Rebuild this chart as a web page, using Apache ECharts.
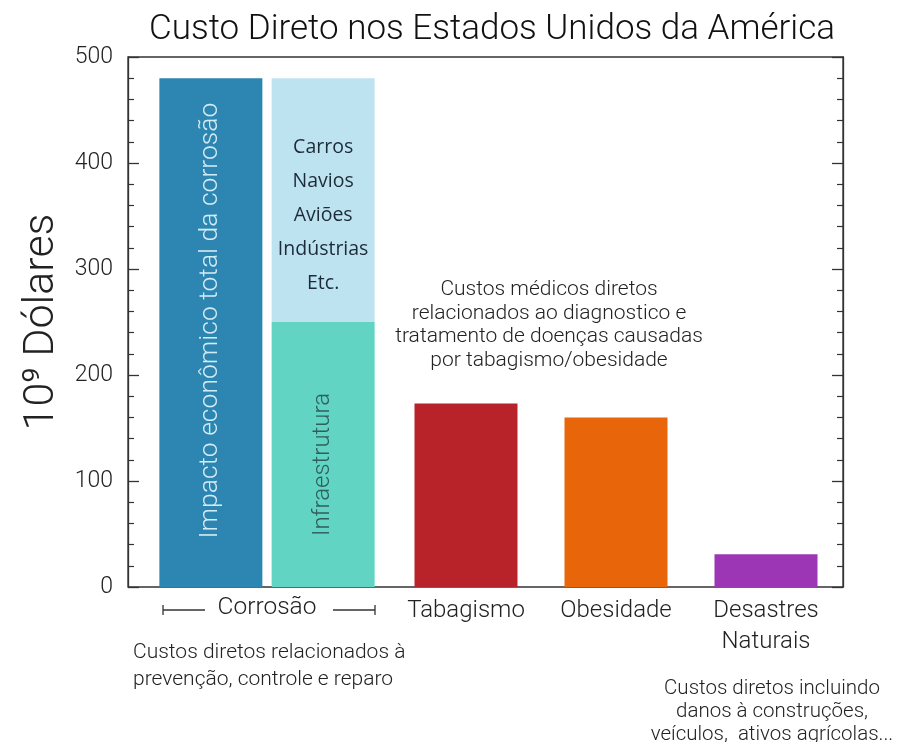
<!DOCTYPE html>
<html>
<head>
<meta charset="utf-8">
<title>Custo Direto nos Estados Unidos da América</title>
<script src="https://cdn.jsdelivr.net/npm/echarts@6/dist/echarts.min.js"></script>
<style>
  html, body { margin: 0; padding: 0; background: #ffffff; }
  #chart { width: 898px; height: 742px; }
</style>
</head>
<body>
<div id="chart"></div>
<script>
// Valores em bilhões de dólares (10^9 US$)
const corrosaoCategoria = ['Corrosão'];
const corrosaoTotal = [480];
const corrosaoInfraestrutura = [250];
const corrosaoOutrosSetores = [230];

const outrasCategorias = ['Tabagismo', 'Obesidade', 'Desastres\nNaturais'];
const outrosValores = [173, 160, 31];

const yMin = 0;
const yMax = 500;
const yIntervalo = 100;

// Cores
const corTotal = '#2d86b2';
const corInfra = '#61d4c3';
const corSetores = '#bee3f0';
const coresOutras = ['#b8232a', '#e8650a', '#9c36b4'];

const FONTE = 'Roboto, "Liberation Sans", sans-serif';
const TXT = '#222222';

const chart = echarts.init(document.getElementById('chart'), null, { renderer: 'canvas' });

const eixoOculto = (grid) => ({
  gridIndex: grid, type: 'value', min: yMin, max: yMax, interval: yIntervalo, show: false
});

const eixoComTicks = (pos, labels) => ({
  gridIndex: 0,
  type: 'value',
  position: pos,
  min: yMin, max: yMax, interval: yIntervalo,
  axisLine: { show: true, lineStyle: { color: '#333', width: 1.3 } },
  axisTick: { show: true, inside: true, length: 11, lineStyle: { color: '#333', width: 1.3 } },
  minorTick: { show: true, splitNumber: 5, length: 6, lineStyle: { color: '#333', width: 1.2 } },
  splitLine: { show: false },
  axisLabel: { show: labels, fontSize: 23, color: TXT, fontFamily: FONTE, fontWeight: 300, margin: 15 }
});

const option = {
  backgroundColor: '#ffffff',
  animation: false,
  title: {
    text: 'Custo Direto nos Estados Unidos da América',
    left: 487, top: 8, textAlign: 'center',
    textStyle: { fontSize: 35, fontWeight: 300, color: '#111', fontFamily: FONTE }
  },
  grid: [
    { left: 128, right: 55, top: 57, bottom: 155, show: true, borderColor: '#333', borderWidth: 1.3 },
    { left: 128, width: 278, top: 57, bottom: 155 },
    { left: 391, width: 450, top: 57, bottom: 155 }
  ],
  xAxis: [
    { gridIndex: 0, type: 'category', data: [''], show: false },
    {
      gridIndex: 1, type: 'category', data: corrosaoCategoria,
      axisLine: { show: false }, axisTick: { show: false },
      axisLabel: { fontSize: 24.5, color: TXT, fontFamily: FONTE, fontWeight: 300, margin: 8 }
    },
    {
      gridIndex: 2, type: 'category', data: outrasCategorias,
      axisLine: { show: false }, axisTick: { show: false },
      axisLabel: { interval: 0, fontSize: 24, color: TXT, fontFamily: FONTE, fontWeight: 300, margin: 8, lineHeight: 31 }
    }
  ],
  yAxis: [
    Object.assign(eixoComTicks('left', true), {
      name: '10⁹ Dólares',
      nameLocation: 'middle',
      nameGap: 58,
      nameTextStyle: { fontSize: 43, color: TXT, fontFamily: FONTE, fontWeight: 300 }
    }),
    eixoComTicks('right', false),
    eixoOculto(1),
    eixoOculto(2)
  ],
  series: [
    {
      name: 'Impacto econômico total da corrosão',
      type: 'bar', xAxisIndex: 1, yAxisIndex: 2,
      data: corrosaoTotal, barWidth: 103, barGap: '9%',
      itemStyle: { color: corTotal },
      label: {
        show: true, position: 'inside', rotate: 90, offset: [12, 0],
        formatter: 'Impacto econômico total da corrosão',
        fontSize: 26.5, color: '#d3ebf5', fontFamily: FONTE, fontWeight: 300
      }
    },
    {
      name: 'Infraestrutura',
      type: 'bar', stack: 'setores', xAxisIndex: 1, yAxisIndex: 2,
      data: corrosaoInfraestrutura, barWidth: 103,
      itemStyle: { color: corInfra },
      label: {
        show: true, position: 'inside', rotate: 90, offset: [-10, 0],
        formatter: 'Infraestrutura',
        fontSize: 24, color: '#2f5f5b', fontFamily: FONTE, fontWeight: 300
      }
    },
    {
      name: 'Outros setores',
      type: 'bar', stack: 'setores', xAxisIndex: 1, yAxisIndex: 2,
      data: corrosaoOutrosSetores, barWidth: 103,
      itemStyle: { color: corSetores },
      label: {
        show: true, position: 'inside', offset: [0, 15],
        formatter: 'Carros\nNavios\nAviões\nIndústrias\nEtc.',
        fontSize: 19.5, lineHeight: 34, color: '#1d2a38', fontFamily: '"Open Sans", Lato, sans-serif'
      }
    },
    {
      name: 'Outros custos',
      type: 'bar', xAxisIndex: 2, yAxisIndex: 3,
      barWidth: 103,
      data: outrosValores.map((v, i) => ({ value: v, itemStyle: { color: coresOutras[i] } }))
    }
  ],
  graphic: [
    // chave horizontal sob as barras de corrosão
    { type: 'line', shape: { x1: 163, y1: 610, x2: 205, y2: 610 }, style: { stroke: '#333', lineWidth: 1.3 } },
    { type: 'line', shape: { x1: 163, y1: 605, x2: 163, y2: 615 }, style: { stroke: '#333', lineWidth: 1.3 } },
    { type: 'line', shape: { x1: 333, y1: 610, x2: 375, y2: 610 }, style: { stroke: '#333', lineWidth: 1.3 } },
    { type: 'line', shape: { x1: 375, y1: 605, x2: 375, y2: 615 }, style: { stroke: '#333', lineWidth: 1.3 } },
    {
      type: 'text', left: 133, top: 639,
      style: {
        text: 'Custos diretos relacionados à\nprevenção, controle e reparo',
        fontSize: 21, lineHeight: 27, fill: '#222', fontFamily: FONTE, fontWeight: 300
      }
    },
    {
      type: 'text', x: 549, y: 278,
      style: {
        text: 'Custos médicos diretos\nrelacionados ao diagnostico e\ntratamento de doenças causadas\npor tabagismo/obesidade',
        textAlign: 'center', fontSize: 21, lineHeight: 23.5, fill: '#222', fontFamily: FONTE, fontWeight: 300
      }
    },
    {
      type: 'text', x: 772, y: 677,
      style: {
        text: 'Custos diretos incluindo\ndanos à construções,\nveículos,  ativos agrícolas...',
        textAlign: 'center', fontSize: 20.5, lineHeight: 23, fill: '#222', fontFamily: FONTE, fontWeight: 300
      }
    }
  ]
};

chart.setOption(option);
</script>
</body>
</html>
